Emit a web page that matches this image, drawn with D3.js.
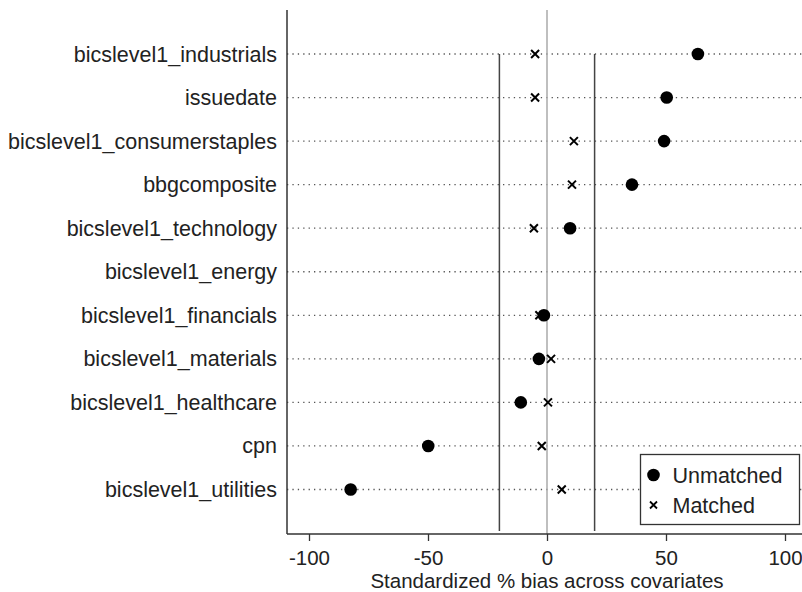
<!DOCTYPE html>
<html>
<head>
<meta charset="utf-8">
<script src="https://cdn.jsdelivr.net/npm/d3@7"></script>
<style>
  body { margin: 0; background: #fff; }
  svg { display: block; font-family: "Liberation Sans", Arial, sans-serif; }
</style>
</head>
<body>
<svg></svg>
<script>
// covariates, top to bottom
const covariates = [
  "bicslevel1_industrials", "issuedate", "bicslevel1_consumerstaples", "bbgcomposite",
  "bicslevel1_technology", "bicslevel1_energy", "bicslevel1_financials", "bicslevel1_materials",
  "bicslevel1_healthcare", "cpn", "bicslevel1_utilities"
]
// standardized % bias, null = not shown
const unmatched = [63.4, 50.3, 49.2, 35.7, 9.7, null, -1.3, -3.4, -11, -49.9, -82.5]
const matched = [-5.0, -5.0, 11.3, 10.5, -5.5, null, -3.2, 1.7, 0.4, -2.2, 6.2]
const xTicks = [-100, -50, 0, 50, 100]
const refLines = [-20, 20]

const width = 802, height = 592
const axisLeft = 287, axisBottom = 534, axisTop = 10
const fontSize = 21.5

const svg = d3.select('svg').attr("width", width).attr("height", height)

const x = d3.scaleLinear().domain([-100, 100]).range([309, 785])
const y = d3.scalePoint().domain(covariates).range([54, 489.5])

// dotted row guides
svg.append("g").selectAll("line")
  .data(covariates)
  .join("line")
  .attr("x1", axisLeft).attr("x2", width)
  .attr("y1", d => y(d)).attr("y2", d => y(d))
  .attr("stroke", "#555").attr("stroke-width", 1.3)
  .attr("stroke-dasharray", "1.3,4.1")

// zero line
svg.append("line")
  .attr("x1", x(0)).attr("x2", x(0))
  .attr("y1", axisTop).attr("y2", axisBottom)
  .attr("stroke", "#aaa").attr("stroke-width", 1.5)

// +-20 reference lines
svg.append("g").selectAll("line")
  .data(refLines)
  .join("line")
  .attr("x1", d => x(d)).attr("x2", d => x(d))
  .attr("y1", y(covariates[0])).attr("y2", axisBottom - 3)
  .attr("stroke", "#444").attr("stroke-width", 1.5)

// x axis
const xAxis = svg.append("g")
  .attr("transform", `translate(0, ${axisBottom})`)
  .call(d3.axisBottom(x).tickValues(xTicks).tickFormat(d => String(d)).tickSize(7).tickPadding(9))
xAxis.select(".domain").remove()
xAxis.selectAll(".tick line").attr("stroke", "#333").attr("stroke-width", 1.3)
xAxis.selectAll(".tick text").attr("font-size", 20.5).attr("fill", "#222")
  .attr("font-family", "Liberation Sans, Arial, sans-serif")

svg.append("line")
  .attr("x1", axisLeft).attr("x2", width)
  .attr("y1", axisBottom).attr("y2", axisBottom)
  .attr("stroke", "#333").attr("stroke-width", 1.5)

// y axis
svg.append("line")
  .attr("x1", axisLeft).attr("x2", axisLeft)
  .attr("y1", axisTop).attr("y2", axisBottom)
  .attr("stroke", "#333").attr("stroke-width", 1.5)

svg.append("g").selectAll("text")
  .data(covariates)
  .join("text")
  .attr("x", 277).attr("y", d => y(d))
  .attr("dy", "0.35em")
  .attr("text-anchor", "end")
  .attr("font-size", fontSize).attr("fill", "#222")
  .text(d => d)

svg.append("text")
  .attr("x", x(0)).attr("y", 587.5)
  .attr("text-anchor", "middle")
  .attr("font-size", 20.5).attr("fill", "#222")
  .text("Standardized % bias across covariates")

// markers
const crossPath = "M-4,-4L4,4M-4,4L4,-4"

svg.append("g").selectAll("circle")
  .data(covariates.map((c, i) => [c, unmatched[i]]).filter(d => d[1] != null))
  .join("circle")
  .attr("cx", d => x(d[1])).attr("cy", d => y(d[0]))
  .attr("r", 6.3).attr("fill", "#000")

svg.append("g").selectAll("path")
  .data(covariates.map((c, i) => [c, matched[i]]).filter(d => d[1] != null))
  .join("path")
  .attr("transform", d => `translate(${x(d[1])}, ${y(d[0])})`)
  .attr("d", crossPath)
  .attr("stroke", "#000").attr("stroke-width", 2)

// legend
const legend = svg.append("g").attr("transform", "translate(640.5, 454.5)")
legend.append("rect")
  .attr("width", 159).attr("height", 70)
  .attr("fill", "#fff").attr("stroke", "#333").attr("stroke-width", 1.3)
legend.append("circle").attr("cx", 13).attr("cy", 20.5).attr("r", 6.3).attr("fill", "#000")
legend.append("path").attr("transform", "translate(13, 50.5)").attr("d", "M-3.5,-3.5L3.5,3.5M-3.5,3.5L3.5,-3.5")
  .attr("stroke", "#000").attr("stroke-width", 1.8)
legend.append("text").attr("x", 32).attr("y", 20.5).attr("dy", "0.35em")
  .attr("font-size", fontSize).attr("fill", "#222").text("Unmatched")
legend.append("text").attr("x", 32).attr("y", 50.5).attr("dy", "0.35em")
  .attr("font-size", fontSize).attr("fill", "#222").text("Matched")
</script>
</body>
</html>
